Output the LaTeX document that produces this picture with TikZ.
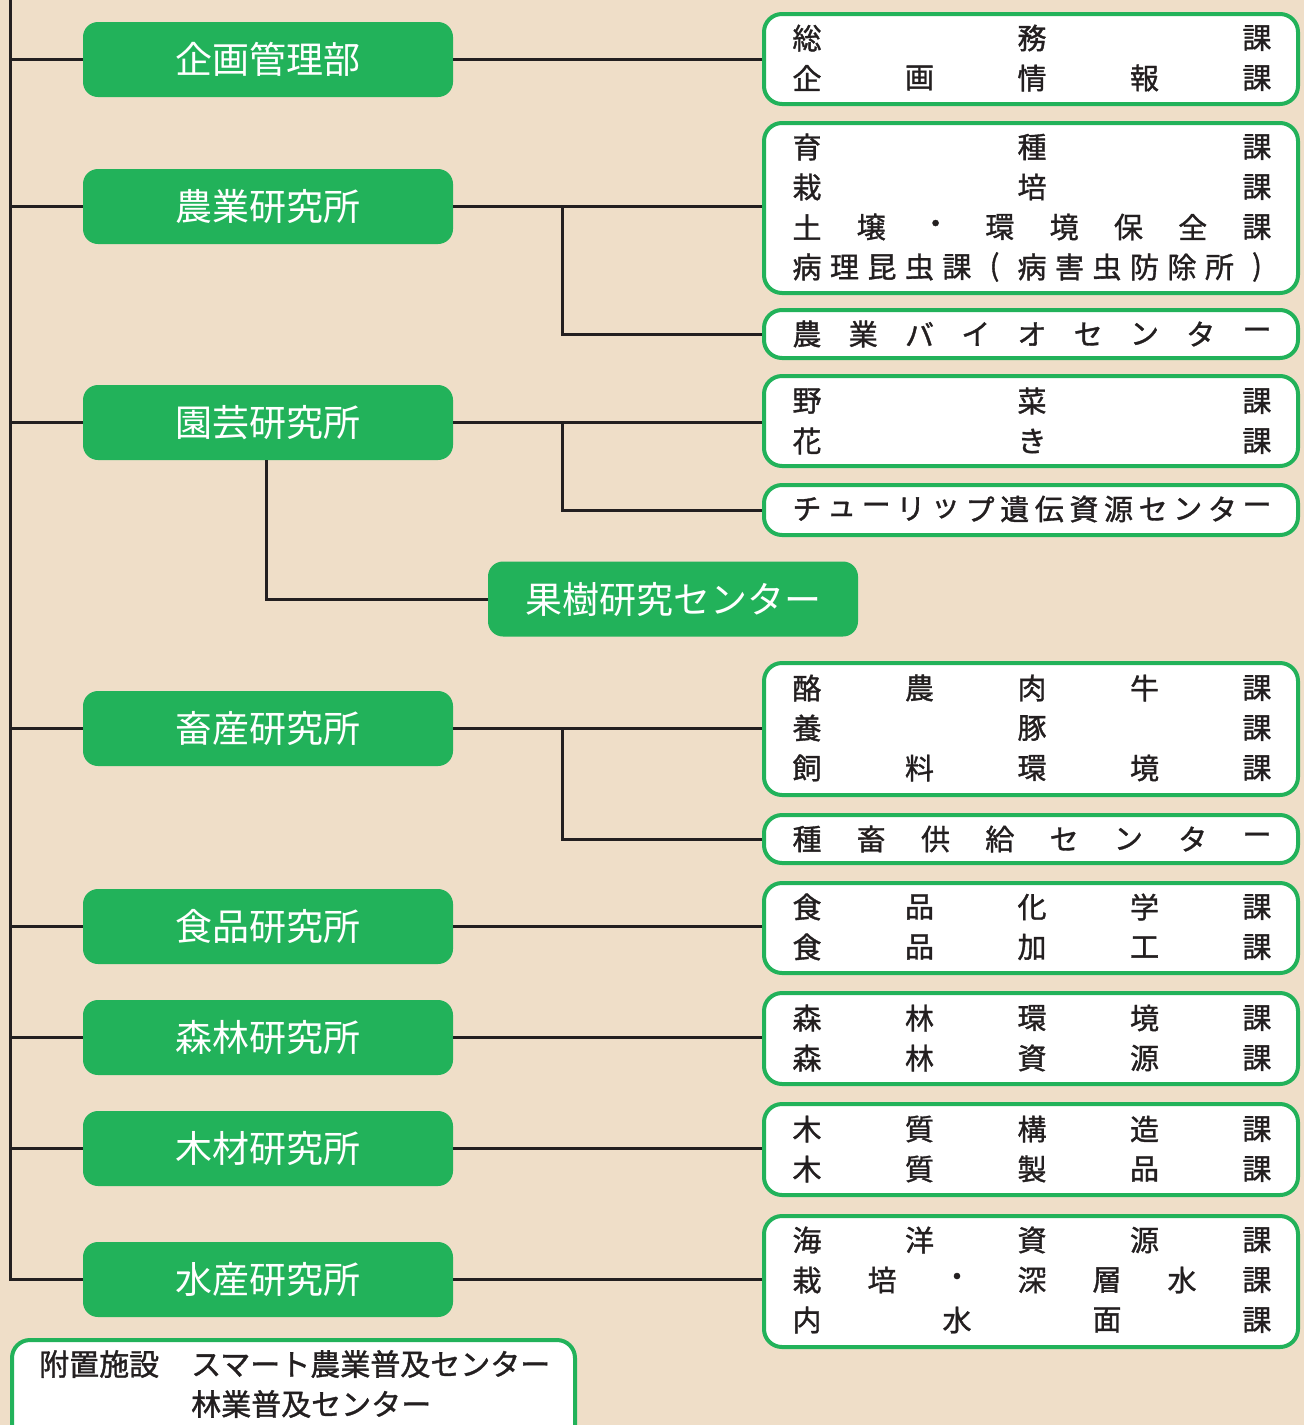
\documentclass[tikz,border=0pt]{standalone}
\usepackage{fontspec}
\newfontfamily\jp{Noto Sans CJK JP}
\newfontfamily\jpb[FakeBold=1.2]{Noto Sans CJK JP}
\definecolor{bg}{RGB}{239,222,200}
\definecolor{grn}{RGB}{34,178,90}
\definecolor{ink}{RGB}{35,31,32}
\tikzset{
  gbox/.style={fill=grn, rounded corners=15pt, minimum width=370pt, minimum height=75pt, inner sep=0pt, text=white, font=\jp\fontsize{37}{37}\selectfont},
  wbox/.style={draw=grn, line width=4pt, fill=white, rounded corners=18pt, minimum width=534pt, inner sep=0pt},
  btext/.style={font=\jpb\fontsize{29}{29}\selectfont, text=ink, inner sep=0pt},
  ftext/.style={font=\jpb\fontsize{30}{30}\selectfont, text=ink, inner sep=0pt, anchor=west},
  conn/.style={draw=ink, line width=3pt},
}
\newcommand\dline[3]{%
  \foreach \ch [count=\k] in {#3} {\node[btext] (c-#1-\k) at ({807+(\k-1)*450/(#2-1)}, #1) {\ch};}}
\begin{document}
\begin{tikzpicture}[x=1pt,y=-1pt]
\useasboundingbox (0,0) rectangle (1304,1425);
\clip (0,0) rectangle (1304,1425);
\fill[bg] (0,0) rectangle (1304,1425);
% left green boxes
\node[gbox] (g1) at (268,59.5) {企画管理部};
\node[gbox] (g2) at (268,206.5) {農業研究所};
\node[gbox] (g3) at (268,422.5) {園芸研究所};
\node[gbox] (g4) at (673,599) {果樹研究センター};
\node[gbox] (g5) at (268,728.5) {畜産研究所};
\node[gbox] (g6) at (268,926.5) {食品研究所};
\node[gbox] (g7) at (268,1037.5) {森林研究所};
\node[gbox] (g8) at (268,1148.5) {木材研究所};
\node[gbox] (g9) at (268,1279.5) {水産研究所};
% right white boxes
\node[wbox, minimum height=90pt] (b1) at (1031,59) {};
\node[wbox, minimum height=170pt] (b2) at (1031,208) {};
\node[wbox, minimum height=48pt] (b3) at (1031,334) {};
\node[wbox, minimum height=90pt] (b4) at (1031,421) {};
\node[wbox, minimum height=50pt] (b5) at (1031,510) {};
\node[wbox, minimum height=132pt] (b6) at (1031,729) {};
\node[wbox, minimum height=48pt] (b7) at (1031,839) {};
\node[wbox, minimum height=90pt] (b8) at (1031,928) {};
\node[wbox, minimum height=91pt] (b9) at (1031,1038.5) {};
\node[wbox, minimum height=91pt] (b10) at (1031,1149.5) {};
\node[wbox, minimum height=131pt] (b11) at (1031,1281.5) {};
% bottom box
\node[wbox, minimum width=563pt, minimum height=120pt] (fb) at (293.5,1400) {};
\node[ftext] (f0) at (39,1364) {附置施設};
\node[ftext] (f1) at (191,1364) {スマート農業普及センター};
\node[ftext] (f2) at (191,1404) {林業普及センター};
% connectors
\coordinate (top) at (10,0);
\coordinate (br) at (562,0);
\draw[conn] (top) |- (g9.west);
\foreach \g in {g1,g2,g3,g5,g6,g7,g8} {\draw[conn] (\g.west -| top) -- (\g.west);}
\draw[conn] (g1.east) -- (g1.east -| b1.west);
\draw[conn] (g2.east) -- (g2.east -| b2.west);
\draw[conn] (g2.east -| br) |- (b3.west);
\draw[conn] (g3.east) -- (g3.east -| b4.west);
\draw[conn] (g3.east -| br) |- (b5.west);
\draw[conn] ([xshift=-2pt]g3.south) |- (g4.west);
\draw[conn] (g5.east) -- (g5.east -| b6.west);
\draw[conn] (g5.east -| br) |- (b7.west);
\draw[conn] (g6.east) -- (g6.east -| b8.west);
\draw[conn] (g7.east) -- (g7.east -| b9.west);
\draw[conn] (g8.east) -- (g8.east -| b10.west);
\draw[conn] (g9.east) -- (g9.east -| b11.west);
% texts in boxes
\dline{38}{3}{総,務,課}
\dline{78}{5}{企,画,情,報,課}
\dline{147}{3}{育,種,課}
\dline{187}{3}{栽,培,課}
\dline{227}{8}{土,壌,・,環,境,保,全,課}
\dline{267}{13}{病,理,昆,虫,課,{(},病,害,虫,防,除,所,{)}}
\dline{334}{9}{農,業,バ,イ,オ,セ,ン,タ,ー}
\dline{401}{3}{野,菜,課}
\dline{441}{3}{花,き,課}
\dline{509}{14}{チ,ュ,ー,リ,ッ,プ,遺,伝,資,源,セ,ン,タ,ー}
\dline{688}{5}{酪,農,肉,牛,課}
\dline{728}{3}{養,豚,課}
\dline{768}{5}{飼,料,環,境,課}
\dline{839}{8}{種,畜,供,給,セ,ン,タ,ー}
\dline{907}{5}{食,品,化,学,課}
\dline{947}{5}{食,品,加,工,課}
\dline{1018}{5}{森,林,環,境,課}
\dline{1058}{5}{森,林,資,源,課}
\dline{1129}{5}{木,質,構,造,課}
\dline{1169}{5}{木,質,製,品,課}
\dline{1240}{5}{海,洋,資,源,課}
\dline{1280}{7}{栽,培,・,深,層,水,課}
\dline{1320}{4}{内,水,面,課}
\end{tikzpicture}
\end{document}
